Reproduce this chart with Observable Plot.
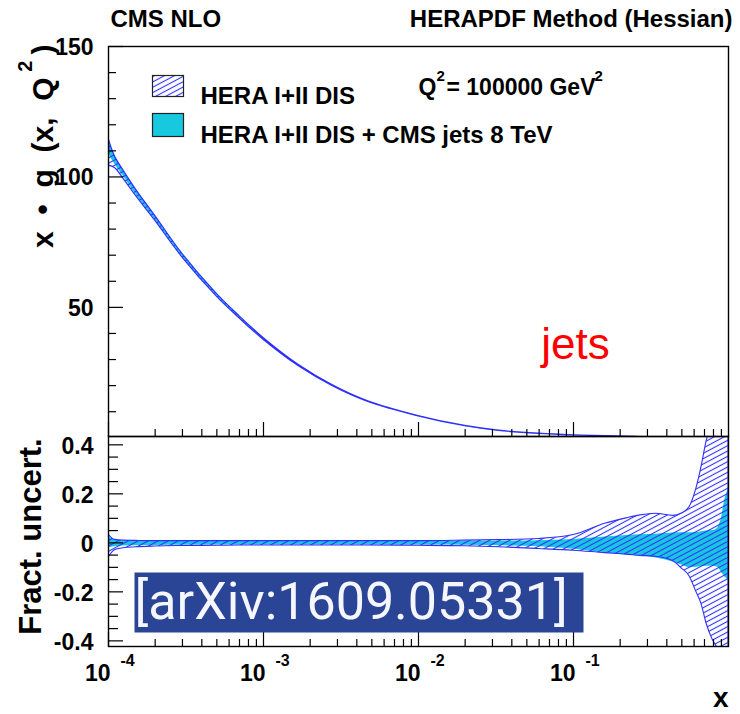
<!DOCTYPE html>
<html><head><meta charset="utf-8">
<script src="https://cdn.jsdelivr.net/npm/d3@7"></script>
<script src="https://cdn.jsdelivr.net/npm/@observablehq/plot@0.6"></script>
<style>
body{margin:0;background:#fff;}
#chart{width:740px;height:714px;position:relative;background:#fff;}
#chart svg{display:block;}
</style></head><body>
<svg width="0" height="0" style="position:absolute">
<defs>
<pattern id="hatch" patternUnits="userSpaceOnUse" width="10" height="4.7" patternTransform="rotate(-28)">
<line x1="0" y1="2.35" x2="10" y2="2.35" stroke="#3030ff" stroke-width="1.1"/>
</pattern>
</defs></svg>
<div id="chart"></div>
<script>
// ---- data ----
const xs     = [1e-4, 1.1e-4, 1.25e-4, 1.5e-4, 2e-4, 3e-4, 5e-4, 7e-4, 1e-3, 1.7e-3, 2.8e-3, 4.6e-3, 1e-2, 0.02, 0.033, 0.06, 0.1, 0.16, 0.22, 0.27, 0.34, 0.44, 0.5, 0.56, 0.62, 0.67, 0.72, 0.79, 0.85, 0.9, 0.95, 1.0];
const xg     = [111, 106.6, 101.5, 94.5, 84.5, 70, 54.8, 46.3, 38, 27.6, 20, 14.2, 8.3, 4.5, 2.7, 1.55, 0.95, 0.6, 0.38, 0.27, 0.17, 0.09, 0.06, 0.04, 0.026, 0.018, 0.012, 0.006, 0.003, 0.0015, 0.0005, 0.0001];
const heraUp = [0.034, 0.012, 0.009, 0.008, 0.007, 0.007, 0.007, 0.007, 0.007, 0.007, 0.007, 0.007, 0.007, 0.009, 0.011, 0.016, 0.032, 0.078, 0.1, 0.112, 0.119, 0.11, 0.12, 0.145, 0.22, 0.31, 0.41, 0.5, 0.56, 0.6, 0.65, 0.7];
const heraDn = [-0.06, -0.03, -0.022, -0.018, -0.015, -0.013, -0.012, -0.011, -0.011, -0.011, -0.011, -0.011, -0.012, -0.014, -0.018, -0.025, -0.032, -0.042, -0.048, -0.053, -0.057, -0.075, -0.105, -0.136, -0.2, -0.25, -0.327, -0.395, -0.43, -0.47, -0.5, -0.55];
const cmsUp  = [0.03, 0.012, 0.008, 0.007, 0.006, 0.006, 0.005, 0.005, 0.005, 0.005, 0.005, 0.005, 0.005, 0.006, 0.007, 0.009, 0.014, 0.024, 0.03, 0.033, 0.035, 0.04, 0.041, 0.041, 0.042, 0.045, 0.048, 0.05, 0.06, 0.1, 0.18, 0.22];
const cmsDn  = [-0.02, -0.016, -0.013, -0.012, -0.011, -0.01, -0.009, -0.009, -0.009, -0.009, -0.009, -0.009, -0.009, -0.01, -0.012, -0.016, -0.026, -0.04, -0.05, -0.054, -0.062, -0.078, -0.09, -0.102, -0.1, -0.097, -0.095, -0.095, -0.1, -0.12, -0.14, -0.15];

const decades    = [1e-4, 1e-3, 1e-2, 1e-1];
const decadeBase = ["10", "10", "10", "10"];
const decadeExp  = ["-4", "-3", "-2", "-1"];
const minorMult  = [2, 3, 4, 5, 6, 7, 8, 9];
const topYMajor  = [50, 100, 150];
const topYLabels = ["50", "100", "150"];
const topYMinor  = [10, 20, 30, 40, 60, 70, 80, 90, 110, 120, 130, 140];
const botYMajor  = [-0.4, -0.2, 0, 0.2, 0.4];
const botYLabels = ["-0.4", "-0.2", "0", "0.2", "0.4"];
const botYMinor  = [-0.35, -0.3, -0.25, -0.15, -0.1, -0.05, 0.05, 0.1, 0.15, 0.25, 0.3, 0.35];

const legendLabels = ["HERA I+II DIS", "HERA I+II DIS + CMS jets 8 TeV"];
const titleLeft  = "CMS NLO";
const titleRight = "HERAPDF Method (Hessian)";
const scaleParts = ["Q", "2", "= 100000 GeV", "2"];
const yTitleParts = ["x  •  g  (x,  Q", "2", ")"];
const yTitleBot  = "Fract. uncert.";
const xTitle     = "x";
const jetsLabel  = "jets";
const arxivLabel = "[arXiv:1609.05331]";

const rows = xs.map((x, i) => ({x, v: xg[i], hu: heraUp[i], hd: heraDn[i], cu: cmsUp[i], cd: cmsDn[i]}));
const xMinor = decades.flatMap(d => minorMult.map(k => k * d));

const CYAN = "#18c8df", BLUE = "#2f2fff";
const FONT = "Liberation Sans, Arial, Helvetica, sans-serif";
const W = 620, TOPH = 390, BOTH = 210;
const tk = {stroke: "black", strokeWidth: 1.2};
const B = {fontWeight: "bold"};

const common = {
  width: 740, marginLeft: 108, marginRight: 12,
  x: {type: "log", domain: [1e-4, 1], axis: null},
  style: {fontFamily: FONT, overflow: "visible", background: "white"}
};

const topPlot = Plot.plot({
  ...common, height: 436, marginTop: 46, marginBottom: 0,
  y: {domain: [0.5, 150], axis: null},
  marks: [
    Plot.areaY(rows, {x: "x", y1: d => d.v * (1 + d.cd), y2: d => d.v * (1 + d.cu), fill: CYAN, curve: "catmull-rom", clip: true}),
    Plot.areaY(rows, {x: "x", y1: d => d.v * (1 + d.hd), y2: d => d.v * (1 + d.hu), fill: "url(#hatch)", stroke: BLUE, strokeWidth: 1.2, curve: "catmull-rom", clip: true}),
    Plot.tickX(decades, {x: d => d, insetTop: TOPH - 14, ...tk}),
    Plot.tickX(xMinor, {x: d => d, insetTop: TOPH - 7, ...tk}),
    Plot.tickY(topYMajor, {y: d => d, insetRight: W - 15, ...tk}),
    Plot.tickY(topYMinor, {y: d => d, insetRight: W - 8, ...tk}),
    Plot.frame({stroke: "black", strokeWidth: 1.4}),
    Plot.text(topYMajor, {y: d => d, text: (d, i) => topYLabels[i], frameAnchor: "left", textAnchor: "end", dx: -15, dy: 1, fontSize: 23, ...B}),
    Plot.text([titleLeft], {frameAnchor: "top-left", textAnchor: "start", lineAnchor: "bottom", dx: 2, dy: -20, fontSize: 24, ...B}),
    Plot.text([titleRight], {frameAnchor: "top-right", textAnchor: "end", lineAnchor: "bottom", dx: 4, dy: -20, fontSize: 24, ...B}),
    Plot.text([yTitleParts[2]], {frameAnchor: "top-left", textAnchor: "end", rotate: -90, dx: -77, dy: -2, fontSize: 30, ...B}),
    Plot.text([yTitleParts[1]], {frameAnchor: "top-left", textAnchor: "end", rotate: -90, dx: -91, dy: 14, fontSize: 20, ...B}),
    Plot.text([yTitleParts[0]], {frameAnchor: "top-left", textAnchor: "end", rotate: -90, dx: -77, dy: 31, fontSize: 30, ...B}),
    Plot.frame({fill: "url(#hatch)", stroke: "#222", strokeWidth: 1.2, insetLeft: 44, insetTop: 29, insetRight: 545, insetBottom: 340}),
    Plot.frame({fill: CYAN, stroke: "#222", strokeWidth: 1.2, insetLeft: 44, insetTop: 67, insetRight: 545, insetBottom: 300}),
    Plot.text([legendLabels[0]], {frameAnchor: "top-left", textAnchor: "start", dx: 92, dy: 40, fontSize: 24, ...B}),
    Plot.text([legendLabels[1]], {frameAnchor: "top-left", textAnchor: "start", dx: 92, dy: 79, fontSize: 24, ...B}),
    Plot.text([scaleParts[0]], {frameAnchor: "top-left", textAnchor: "start", dx: 310, dy: 32, fontSize: 23, ...B}),
    Plot.text([scaleParts[1]], {frameAnchor: "top-left", textAnchor: "start", dx: 328, dy: 24, fontSize: 15, ...B}),
    Plot.text([scaleParts[2]], {frameAnchor: "top-left", textAnchor: "start", dx: 338, dy: 32, fontSize: 23, ...B}),
    Plot.text([scaleParts[3]], {frameAnchor: "top-left", textAnchor: "start", dx: 486, dy: 24, fontSize: 15, ...B}),
    Plot.text([jetsLabel], {frameAnchor: "top-left", textAnchor: "middle", lineAnchor: "bottom", dx: 467, dy: 312, fontSize: 44, fill: "#ff0000"})
  ]
});

const botPlot = Plot.plot({
  ...common, height: 278, marginTop: 0, marginBottom: 68,
  y: {domain: [-0.423, 0.434], axis: null},
  marks: [
    Plot.areaY(rows, {x: "x", y1: "cd", y2: "cu", fill: CYAN, curve: "monotone-x", clip: true}),
    Plot.areaY(rows, {x: "x", y1: "hd", y2: "hu", fill: "url(#hatch)", stroke: BLUE, strokeWidth: 1.1, curve: "monotone-x", clip: true}),
    Plot.tickX(decades, {x: d => d, insetTop: BOTH - 14, ...tk}),
    Plot.tickX(xMinor, {x: d => d, insetTop: BOTH - 7, ...tk}),
    Plot.tickY(botYMajor, {y: d => d, insetRight: W - 15, ...tk}),
    Plot.tickY(botYMinor, {y: d => d, insetRight: W - 10, ...tk}),
    Plot.frame({stroke: "black", strokeWidth: 1.4}),
    Plot.text(botYMajor, {y: d => d, text: (d, i) => botYLabels[i], frameAnchor: "left", textAnchor: "end", dx: -15, dy: 2, fontSize: 23, ...B}),
    Plot.text(decades, {x: d => d, text: (d, i) => decadeBase[i], frameAnchor: "bottom", textAnchor: "end", lineAnchor: "bottom", dx: 2, dy: 34, fontSize: 23, ...B}),
    Plot.text(decades, {x: d => d, text: (d, i) => decadeExp[i], frameAnchor: "bottom", textAnchor: "start", lineAnchor: "bottom", dx: 12, dy: 19, fontSize: 16, ...B}),
    Plot.text([yTitleBot], {frameAnchor: "left", textAnchor: "middle", rotate: -90, dx: -77, dy: -5, fontSize: 31, ...B}),
    Plot.text([xTitle], {frameAnchor: "bottom-right", textAnchor: "end", lineAnchor: "bottom", dx: 0, dy: 60, fontSize: 28, ...B}),
    Plot.frame({fill: "#2a4595", insetLeft: 26, insetTop: 136, insetRight: 145, insetBottom: 14}),
    Plot.text([arxivLabel], {frameAnchor: "top-left", textAnchor: "start", lineAnchor: "middle", dx: 26, dy: 166, fontSize: 52, fontFamily: "Roboto, Open Sans, sans-serif", fill: "#f6f6ff"})
  ]
});

const el = document.getElementById("chart");
el.appendChild(topPlot);
el.appendChild(botPlot);
</script>
</body></html>
